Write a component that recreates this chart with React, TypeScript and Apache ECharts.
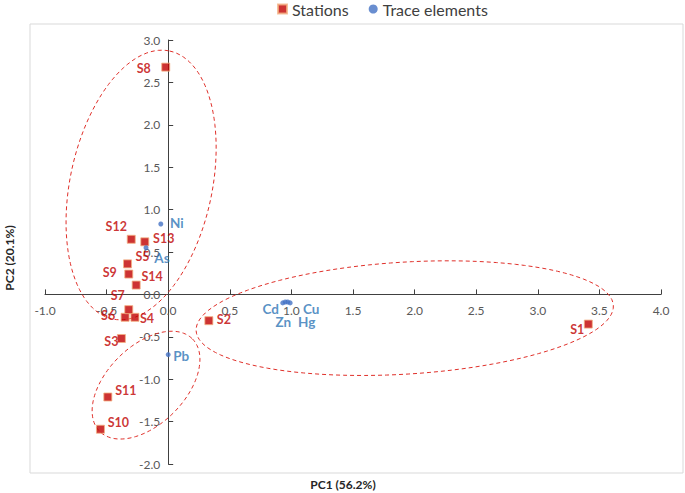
import React, { useEffect, useRef } from "react";
import * as echarts from "echarts";

// Station scores (PC1, PC2)
const stationNames = ["S1", "S2", "S3", "S4", "S5", "S6", "S7", "S8", "S9", "S10", "S11", "S12", "S13", "S14"];
const stationPC1 = [3.41, 0.33, -0.38, -0.27, -0.33, -0.35, -0.32, -0.02, -0.32, -0.55, -0.49, -0.30, -0.19, -0.26];
const stationPC2 = [-0.35, -0.31, -0.52, -0.27, 0.36, -0.27, -0.18, 2.68, 0.24, -1.59, -1.21, 0.65, 0.62, 0.11];

// Trace element loadings (PC1, PC2)
const elementNames = ["Ni", "As", "Pb", "Cd", "Zn", "Hg", "Cu"];
const elementPC1 = [-0.06, -0.18, 0.0, 0.93, 0.95, 0.97, 0.99];
const elementPC2 = [0.83, 0.55, -0.71, -0.10, -0.09, -0.09, -0.10];

// Grouping ellipses: centre (PC1, PC2)
const ellipseCenterPC1 = [-0.22, 1.92, -0.18];
const ellipseCenterPC2 = [1.29, -0.28, -1.07];

// Axis ranges
const xMin = -1, xMax = 4, yMin = -2, yMax = 3, step = 0.5;

// Layout-only: label offsets (px) and ellipse shapes (px / degrees)
const stationLabelOffset: Record<string, [number, number]> = {
  S1: [-11, 5], S2: [15, -1], S3: [-10, 3], S4: [12, 1], S5: [15, -7], S6: [-17, -2], S7: [-11, -14],
  S8: [-22, 1], S9: [-19, -2], S10: [18, -7], S11: [18, -7], S12: [-15, -13], S13: [19, -3], S14: [16, -9],
};
const elementLabelOffset: Record<string, [number, number]> = {
  Ni: [16, -1], As: [16, 10], Pb: [13, 1], Cd: [-12, 6], Zn: [-2, 20], Hg: [19, 20], Cu: [21, 6],
};
const ellipseShape = [
  { a: 137, b: 71, angle: 78 },
  { a: 209, b: 56, angle: 3.5 },
  { a: 65.5, b: 39, angle: 45 },
];

const FONT = "Lato";
const GRID = { left: 45, right: 24, top: 40, bottom: 29 };
const W = 685, H = 493;

export default function App() {
  const ref = useRef<HTMLDivElement>(null);
  useEffect(() => {
    if (!ref.current) return;
    const chart = echarts.init(ref.current, null, { renderer: "svg" });

    const stationData = stationNames.map((n, i) => ({
      name: n,
      value: [stationPC1[i], stationPC2[i]],
      label: { offset: stationLabelOffset[n] },
    }));
    const elementData = elementNames.map((n, i) => ({
      name: n,
      value: [elementPC1[i], elementPC2[i]],
      label: { offset: elementLabelOffset[n] },
    }));
    const ellipseData = ellipseCenterPC1.map((x, i) => [
      x, ellipseCenterPC2[i], ellipseShape[i].a, ellipseShape[i].b, ellipseShape[i].angle,
    ]);

    // move axes so they cross at (0, 0)
    const gw = W - GRID.left - GRID.right;
    const gh = H - GRID.top - GRID.bottom;
    const yAxisOffset = -((0 - xMin) / (xMax - xMin)) * gw;
    const xAxisOffset = -((0 - yMin) / (yMax - yMin)) * gh;

    const axisLabel = { color: "#595959", fontFamily: FONT, fontSize: 12, formatter: (v: number) => v.toFixed(1) };

    chart.setOption({
      animation: false,
      textStyle: { fontFamily: FONT },
      grid: { ...GRID, containLabel: false },
      legend: {
        data: ["Stations", "Trace elements"],
        top: -4,
        left: 272,
        itemWidth: 9,
        itemHeight: 9,
        itemGap: 20,
        textStyle: { color: "#404040", fontSize: 16, fontFamily: FONT },
      },
      xAxis: {
        type: "value",
        min: xMin,
        max: xMax,
        interval: step,
        offset: xAxisOffset,
        axisLine: { onZero: false, lineStyle: { color: "#404040", width: 1 } },
        axisTick: { show: true, inside: true, length: 5, lineStyle: { color: "#404040" } },
        axisLabel: { ...axisLabel, margin: 10 },
        splitLine: { show: false },
      },
      yAxis: {
        type: "value",
        min: yMin,
        max: yMax,
        interval: step,
        offset: yAxisOffset,
        axisLine: { show: true, onZero: false, lineStyle: { color: "#404040", width: 1 } },
        axisTick: { show: true, inside: true, length: 5, lineStyle: { color: "#404040" } },
        axisLabel: { ...axisLabel, margin: 8 },
        splitLine: { show: false },
      },
      graphic: [
        {
          type: "rect",
          shape: { x: 30, y: 24, width: 653, height: 449 },
          style: { fill: "none", stroke: "#d9d9d9", lineWidth: 1 },
          silent: true,
          z: -1,
        },
        {
          type: "text",
          x: 343,
          y: 484,
          style: { text: "PC1 (56.2%)", fontFamily: FONT, fontSize: 12, fontWeight: "bold", fill: "#262626", align: "center", verticalAlign: "middle" },
        },
        {
          type: "text",
          x: 9,
          y: 258,
          rotation: Math.PI / 2,
          style: { text: "PC2 (20.1%)", fontFamily: FONT, fontSize: 12, fontWeight: "bold", fill: "#262626", align: "center", verticalAlign: "middle" },
        },
      ],
      series: [
        {
          type: "custom",
          name: "groups",
          silent: true,
          encode: { x: 0, y: 1 },
          data: ellipseData,
          z: 1,
          renderItem: (_params: any, api: any) => {
            const c = api.coord([api.value(0), api.value(1)]);
            const a = api.value(2);
            const b = api.value(3);
            const phi = (api.value(4) * Math.PI) / 180;
            const ux = Math.cos(phi), uy = -Math.sin(phi);
            const vx = Math.sin(phi), vy = Math.cos(phi);
            const pts: number[][] = [];
            for (let k = 0; k < 120; k++) {
              const t = (k / 120) * Math.PI * 2;
              pts.push([c[0] + a * Math.cos(t) * ux + b * Math.sin(t) * vx, c[1] + a * Math.cos(t) * uy + b * Math.sin(t) * vy]);
            }
            return {
              type: "polygon",
              shape: { points: pts },
              style: { fill: "none", stroke: "#E0302A", lineWidth: 1, lineDash: [4, 3] },
            };
          },
        },
        {
          type: "scatter",
          name: "Stations",
          symbol: "rect",
          symbolSize: 8,
          z: 3,
          itemStyle: { color: "#C00000", borderColor: "#F4B183", borderWidth: 1 },
          label: {
            show: true,
            position: "inside",
            formatter: "{b}",
            color: "#C00000",
            fontWeight: "bold",
            fontSize: 12.5,
            fontFamily: FONT,
          },
          data: stationData,
        },
        {
          type: "scatter",
          name: "Trace elements",
          symbol: "circle",
          symbolSize: 5,
          z: 3,
          itemStyle: { color: "#4472C4" },
          label: {
            show: true,
            position: "inside",
            formatter: "{b}",
            color: "#2E75B6",
            fontWeight: "bold",
            fontSize: 13.5,
            fontFamily: FONT,
          },
          data: elementData,
        },
      ],
    });
    return () => chart.dispose();
  }, []);

  return <div ref={ref} style={{ position: "absolute", left: 0, top: 0, width: W, height: H }} />;
}
